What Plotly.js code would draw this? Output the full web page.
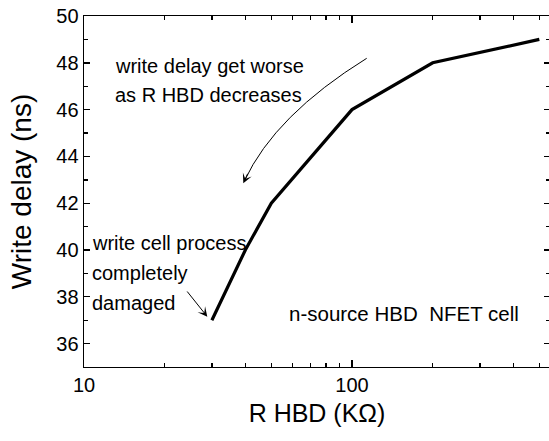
<!DOCTYPE html>
<html>
<head>
<meta charset="utf-8">
<script src="https://cdn.plot.ly/plotly-3.0.1.min.js"></script>
<style>html,body{margin:0;padding:0;overflow:hidden;background:#fff}#chart{width:551px;height:441px}</style>
</head>
<body>
<div id="chart"></div>
<script>
// Data
const rHBD = [30, 40, 50, 100, 200, 500];          // R HBD (KOhm)
const writeDelay = [37, 40, 42, 46, 48, 49];       // write delay (ns)
const yTickVals = [36, 38, 40, 42, 44, 46, 48, 50];
const xTickVals = [10, 100];
const xTickText = ['10', '100'];
const noteLines = ['write delay get worse', 'as R HBD decreases'];
const damageLines = ['write cell process', 'completely', 'damaged'];
const cellLabel = 'n-source HBD\u00a0 NFET cell';

// layout geometry (pixels)
const L = 84, R = 550, T = 16, B = 367;
const px = x => (x - L) / (R - L);
const py = y => (B - y) / (B - T);
const FONT = 'Liberation Sans, Arial, sans-serif';

const annotations = [];
const lineBase = [75, 103.3];
noteLines.forEach((t, i) => annotations.push({
  xref: 'paper', yref: 'paper', x: px(113), y: py(lineBase[i] + 4.5),
  xanchor: 'left', yanchor: 'bottom', text: t, showarrow: false,
  font: {family: FONT, size: 20, color: '#000'}
}));
const dmgBase = [251, 281.7, 311.7];
damageLines.forEach((t, i) => annotations.push({
  xref: 'paper', yref: 'paper', x: px(89.5), y: py(dmgBase[i] + 4.5),
  xanchor: 'left', yanchor: 'bottom', text: t, showarrow: false,
  font: {family: FONT, size: 20, color: '#000'}
}));
annotations.push({
  xref: 'paper', yref: 'paper', x: px(286.5), y: py(322.7 + 4.5),
  xanchor: 'left', yanchor: 'bottom', text: cellLabel, showarrow: false,
  font: {family: FONT, size: 20.5, color: '#000'}
});
// arrowhead of curved arrow
annotations.push({
  xref: 'paper', yref: 'paper', x: px(243.3), y: py(183.3),
  ax: 5, ay: -11, axref: 'pixel', ayref: 'pixel', text: '', showarrow: true,
  arrowhead: 3, arrowsize: 1.6, arrowwidth: 1, arrowcolor: '#000', standoff: 0
});
// straight arrow to damaged point
annotations.push({
  xref: 'paper', yref: 'paper', x: px(207.3), y: py(316.7),
  ax: 186 - 207.3, ay: 290 - 316.7, text: '', showarrow: true,
  arrowhead: 3, arrowsize: 1.6, arrowwidth: 1, arrowcolor: '#000', standoff: 0
});

const shapes = [{
  type: 'path', xref: 'paper', yref: 'paper',
  path: `M ${px(366.7)} ${py(58.3)} Q ${px(275)} ${py(115.2)} ${px(244.5)} ${py(180.7)}`,
  line: {color: '#000', width: 1}
}];

const trace = {
  x: rHBD, y: writeDelay, type: 'scatter', mode: 'lines',
  line: {color: '#000', width: 3.2}, showlegend: false, hoverinfo: 'skip'
};

const axisCommon = {
  showgrid: false, zeroline: false, showline: true, linecolor: '#000', linewidth: 1.4,
  mirror: 'ticks', ticks: 'inside', tickcolor: '#000', tickwidth: 1.4,
  tickfont: {family: FONT, size: 20, color: '#000'}
};

const layout = {
  width: 551, height: 441,
  margin: {l: L, r: 551 - R, t: T, b: 441 - B},
  paper_bgcolor: '#fff', plot_bgcolor: '#fff',
  font: {family: FONT, color: '#000'},
  xaxis: Object.assign({}, axisCommon, {
    type: 'log', range: [1, Math.log10(10 * Math.pow(10, (R - L) / 268))],
    tickmode: 'array', tickvals: xTickVals, ticktext: xTickText, ticklen: 7,
    minor: {ticks: 'inside', ticklen: 4, tickwidth: 1.4, tickcolor: '#000', dtick: 'D1', showgrid: false},
    title: {text: 'R HBD (K\u03a9)', font: {family: FONT, size: 25, color: '#000'}, standoff: 9}
  }),
  yaxis: Object.assign({}, axisCommon, {
    range: [35, 50], tickmode: 'array', tickvals: yTickVals, ticklen: 6,
    minor: {ticks: 'inside', ticklen: 4, tickwidth: 1.4, tickcolor: '#000', dtick: 1, tick0: 35, showgrid: false},
    title: {text: 'Write delay (ns)', font: {family: FONT, size: 28, color: '#000'}, standoff: 16}
  }),
  annotations: annotations,
  shapes: shapes
};

Plotly.newPlot('chart', [trace], layout, {staticPlot: true, displayModeBar: false});
</script>
</body>
</html>
